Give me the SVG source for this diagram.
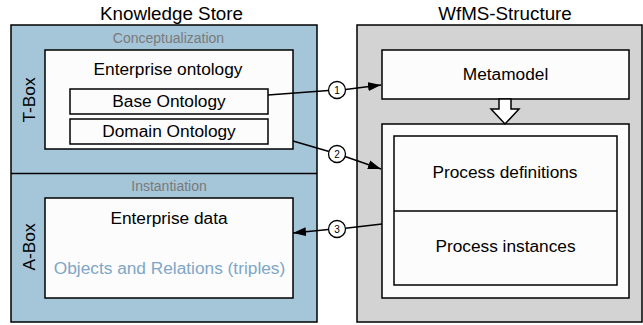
<svg xmlns="http://www.w3.org/2000/svg" width="643" height="325" viewBox="0 0 643 325">
  <style>
    text { font-family: "Liberation Sans", Arial, sans-serif; fill: #000; }
    .title { font-size: 18.8px; text-anchor: middle; }
    .lbl { font-size: 17.3px; text-anchor: middle; }
    .sec { font-size: 14px; text-anchor: middle; fill: #7a7a7a; }
    .soft { fill: #7ea6c6; }
    .num { font-size: 10px; text-anchor: middle; }
    .box { fill: #fcfcfc; stroke: #000; stroke-width: 1.5; }
    .blue { fill: #a5c5d9; stroke: #000; stroke-width: 1.5; }
    .grey { fill: #d3d3d3; stroke: #000; stroke-width: 1.5; }
    .wire { fill: none; stroke: #000; stroke-width: 1.5; }
    .badge { fill: #fff; stroke: #000; stroke-width: 1.3; }
  </style>
  <defs>
    <marker id="head" markerUnits="userSpaceOnUse" markerWidth="14" markerHeight="10" refX="13" refY="5" orient="auto">
      <path d="M0,0.5 L13,5 L0,9.5 Z" fill="#000"/>
    </marker>
  </defs>

  <!-- Knowledge store -->
  <g id="knowledge-store">
    <text class="title" x="171.5" y="20">Knowledge Store</text>
    <rect class="blue" x="11" y="25" width="306" height="297"/>
    <line class="wire" x1="11" y1="173.5" x2="317" y2="173.5"/>
  </g>

  <g id="tbox">
    <text class="sec" x="168.5" y="43">Conceptualization</text>
    <text class="lbl" transform="translate(35,100) rotate(-90)">T-Box</text>
  </g>

  <g id="enterprise-ontology">
    <rect class="box" x="45" y="50" width="248" height="99"/>
    <text class="lbl" x="168" y="75">Enterprise ontology</text>
  </g>

  <g id="base-ontology">
    <rect class="box" x="70" y="89" width="198" height="25"/>
    <text class="lbl" x="169" y="107">Base Ontology</text>
  </g>

  <g id="domain-ontology">
    <rect class="box" x="70" y="119" width="198" height="25"/>
    <text class="lbl" x="169" y="137">Domain Ontology</text>
  </g>

  <g id="abox">
    <text class="sec" x="169" y="191">Instantiation</text>
    <text class="lbl" transform="translate(35,247) rotate(-90)">A-Box</text>
  </g>

  <g id="enterprise-data">
    <rect class="box" x="45" y="198" width="248" height="100"/>
    <text class="lbl" x="169" y="224">Enterprise data</text>
    <text class="lbl soft" x="169.5" y="274">Objects and Relations (triples)</text>
  </g>

  <!-- WfMS structure -->
  <g id="wfms-structure">
    <text class="title" x="505" y="20">WfMS-Structure</text>
    <rect class="grey" x="357" y="25" width="285" height="297"/>
  </g>

  <g id="metamodel">
    <rect class="box" x="382" y="50" width="247" height="49"/>
    <text class="lbl" x="505.5" y="80">Metamodel</text>
  </g>

  <g id="process-models">
    <rect class="box" x="382" y="124" width="247" height="174"/>
    <rect class="box" x="394" y="136" width="223" height="149"/>
    <line class="wire" x1="394" y1="211" x2="617" y2="211"/>
  </g>

  <g id="process-definitions">
    <text class="lbl" x="505" y="178">Process definitions</text>
  </g>

  <g id="process-instances">
    <text class="lbl" x="505.5" y="252">Process instances</text>
  </g>

  <!-- Connectors -->
  <g id="connectors">
    <!-- hollow block arrow from metamodel to process models -->
    <path class="wire" d="M499,99 L511,99 L511,109 L519,109 L505,124 L491,109 L499,109 Z" style="fill:#fff"/>

    <line class="wire" x1="268" y1="95" x2="328.5" y2="90.5"/>
    <line class="wire" x1="345.5" y1="89.5" x2="381" y2="85" marker-end="url(#head)"/>
    <circle class="badge" cx="337" cy="90" r="8.5"/>
    <text class="num" x="337" y="93.5">1</text>

    <line class="wire" x1="293" y1="141" x2="329" y2="151.5"/>
    <line class="wire" x1="345" y1="156.5" x2="381" y2="169" marker-end="url(#head)"/>
    <circle class="badge" cx="337" cy="154" r="8.5"/>
    <text class="num" x="337" y="157.5">2</text>

    <line class="wire" x1="382" y1="224" x2="345.5" y2="228.3"/>
    <line class="wire" x1="328.5" y1="229.5" x2="293" y2="233" marker-end="url(#head)"/>
    <circle class="badge" cx="337" cy="229" r="8.5"/>
    <text class="num" x="337" y="232.5">3</text>
  </g>
</svg>
